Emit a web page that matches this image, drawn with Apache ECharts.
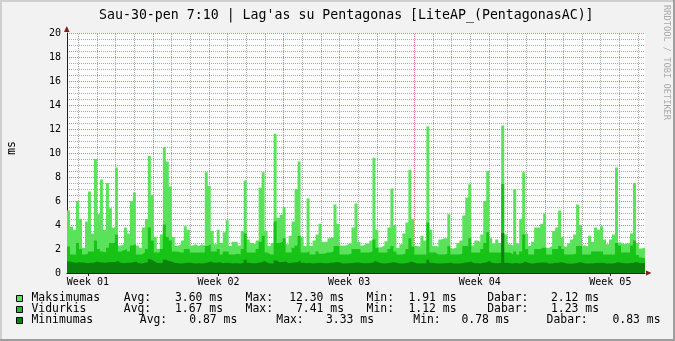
<!DOCTYPE html>
<html><head><meta charset="utf-8">
<script src="https://cdn.jsdelivr.net/npm/echarts@6/dist/echarts.min.js"></script>
<style>html,body{margin:0;padding:0;background:#f2f2f2}#c{width:675px;height:341px}</style>
</head><body><div id="c"></div>
<script>
// ---- data ----
const chartTitle = "Sau-30-pen 7:10 | Lag'as su Pentagonas [LiteAP_(PentagonasAC)]";
const seriesNames = ['Maksimumas', 'Vidurkis', 'Minimumas'];
const seriesColors = ['#5ae35a', '#18c318', '#0b820b'];
const weekLabels = ['Week 01', 'Week 02', 'Week 03', 'Week 04', 'Week 05'];
const weekCenters = [84, 252, 420, 588, 756];     // hours since the Sunday that starts Week 01
const yTicks = [0, 2, 4, 6, 8, 10, 12, 14, 16, 18, 20];
const startHour = 57.1, endHour = 800.6, stepHours = 3.852;

const maxValues = [5.2,3.85,3.6,6.0,4.5,2.1,4.3,6.8,3.3,9.5,
4.9,7.8,3.6,7.5,5.4,3.8,8.8,2.3,2.4,3.8,
3.3,6.0,6.7,2.3,2.1,3.8,4.5,9.75,6.5,3.0,
2.0,3.2,10.5,9.3,7.2,3.0,2.25,2.4,2.7,3.9,
3.6,2.3,2.4,2.25,2.4,2.3,8.4,7.25,3.5,2.4,
3.6,2.5,3.4,4.4,2.25,2.6,2.6,2.3,3.5,7.7,
2.8,2.5,2.4,2.7,7.1,8.4,3.5,2.25,2.5,11.6,
4.6,4.85,5.5,2.4,3.1,4.3,7.0,9.3,3.0,2.25,
6.2,2.25,2.7,3.2,4.1,2.6,2.6,2.9,3.0,5.7,
4.1,2.3,2.3,2.4,2.5,3.8,5.8,2.6,2.3,2.45,
2.45,2.7,9.6,3.6,2.15,2.3,2.65,3.8,7.05,4.0,
2.1,2.4,3.3,4.2,8.6,4.5,2.25,2.2,3.1,2.7,
12.2,3.6,2.25,2.2,2.8,2.9,2.9,4.9,2.05,2.1,
2.5,2.7,4.8,6.3,7.4,2.3,2.7,2.6,3.2,6.0,
8.5,2.9,2.45,2.8,2.5,12.3,3.2,2.4,2.3,7.0,
2.45,4.5,8.4,3.3,2.25,2.6,3.8,3.8,4.1,4.95,
2.1,2.25,3.5,3.8,5.2,3.0,2.2,2.45,2.8,3.2,
5.7,4.0,2.3,2.2,3.1,2.6,3.8,3.6,3.9,2.8,
2.4,2.8,3.2,8.8,2.55,2.4,2.45,2.5,3.3,7.5,
2.5,2.05,2.12];

const avgValues = [2.2,1.55,1.55,2.5,2.0,1.55,1.6,1.8,1.8,2.7,
2.0,1.8,1.7,2.1,2.5,2.5,3.2,1.8,1.9,2.0,
1.8,2.3,2.4,1.55,1.55,1.7,2.0,3.8,2.7,1.7,
1.7,2.0,4.05,3.0,2.7,1.8,1.8,1.7,1.7,2.0,
2.0,1.7,1.7,1.7,1.7,1.7,2.25,2.4,1.8,1.8,
2.0,1.55,1.8,1.8,1.55,1.55,1.6,1.55,2.0,3.3,
1.7,1.7,1.7,2.0,2.6,3.1,1.7,1.55,1.55,4.3,
2.5,2.6,2.9,1.7,1.7,2.1,2.3,3.1,1.7,1.7,
1.8,1.55,1.55,1.8,1.6,1.6,1.7,1.7,1.8,2.25,
2.25,1.55,1.55,1.55,1.6,2.0,2.0,2.0,1.7,1.7,
1.7,1.8,2.8,2.1,1.7,1.7,1.7,2.0,2.25,1.8,
1.55,1.55,1.6,2.0,2.9,2.2,1.55,1.55,1.55,1.55,
4.2,1.7,1.7,1.55,1.55,1.55,1.6,2.25,1.55,1.55,
1.55,1.6,2.25,2.25,2.9,1.7,1.7,1.7,2.0,2.5,
3.4,1.7,1.7,1.7,1.7,7.41,1.7,1.7,1.55,1.8,
1.55,1.8,3.2,2.0,1.55,1.55,2.0,2.0,2.1,2.1,
1.55,1.55,2.0,2.0,2.25,2.0,1.55,1.55,1.55,1.6,
2.25,2.25,1.55,1.55,1.55,1.8,1.8,1.8,1.8,1.55,
1.55,1.55,1.55,2.5,2.3,1.7,1.7,1.7,2.3,2.7,
1.5,1.3,1.23];

const minValues = [0.95,0.9,0.85,0.9,0.88,0.85,0.82,0.85,0.85,0.95,
0.9,0.88,0.85,0.9,0.92,0.9,1.0,0.85,0.82,0.85,
0.85,0.9,0.95,0.82,0.8,0.85,0.9,1.15,1.0,0.85,
0.82,0.85,1.1,1.0,0.95,0.85,0.82,0.8,0.82,0.85,
0.88,0.82,0.8,0.82,0.8,0.82,0.9,0.95,0.88,0.85,
0.9,0.82,0.85,0.85,0.8,0.82,0.82,0.8,0.85,1.1,
0.85,0.82,0.82,0.85,0.9,1.0,0.85,0.8,0.82,1.05,
0.9,0.92,0.95,0.82,0.85,0.88,0.9,1.05,0.85,0.82,
0.85,0.8,0.82,0.85,0.85,0.82,0.82,0.85,0.85,0.92,
0.9,0.8,0.8,0.82,0.82,0.85,0.88,0.85,0.82,0.82,
0.82,0.85,1.0,0.9,0.82,0.8,0.82,0.85,0.9,0.85,
0.8,0.8,0.82,0.85,0.95,0.88,0.8,0.8,0.82,0.8,
1.1,0.85,0.82,0.8,0.8,0.82,0.82,0.88,0.8,0.8,
0.8,0.82,0.88,0.9,0.95,0.82,0.82,0.8,0.85,0.88,
1.0,0.85,0.82,0.82,0.85,3.33,0.85,0.82,0.8,0.85,
0.8,0.82,0.95,0.85,0.8,0.8,0.85,0.85,0.88,0.88,
0.8,0.8,0.85,0.85,0.9,0.85,0.8,0.78,0.8,0.82,
0.9,0.88,0.8,0.8,0.8,0.82,0.85,0.85,0.85,0.8,
0.8,0.8,0.82,0.9,0.85,0.82,0.82,0.82,0.85,0.92,
0.85,0.82,0.83];

const statLabels = ['Avg:', 'Max:', 'Min:', 'Dabar:'];
const statValues = [
  [3.60, 12.30, 1.91, 2.12],
  [1.67, 7.41, 1.12, 1.23],
  [0.87, 3.33, 0.78, 0.83]
];
const legendRowType = ['A', 'A', 'B'];

// ---- helpers ----
function toPoints(vals) {
  const pts = vals.map((v, i) => [startHour + i * stepHours, v]);
  pts.push([startHour + vals.length * stepHours, vals[vals.length - 1]]);
  return pts;
}
const MONO = 'DejaVu Sans Mono';
const GRID_MINOR = 'rgba(143,143,143,0.75)';
const GRID_MAJOR = 'rgba(222,79,79,0.75)';
const AXIS_COL = '#1f1f1f';
const ARROW_COL = '#801f1f';

// vertical grid positions (hours): day boundaries; Sundays (multiples of 168 h) are week boundaries
const gridHours = [];
for (let h = 72; h < endHour; h += 24) gridHours.push(h);

// legend rich layouts
function fr(w, align) { return { width: w, align: align || 'left', fontFamily: MONO, fontSize: 11.4, color: '#000', lineHeight: 13.7 }; }
const rich = {
  As: fr(4), An: fr(92.3), Al1: fr(27.5), Av1: fr(71.7, 'right'), Al2: fr(50, 'right'), Av2: fr(71, 'right'),
  Al3: fr(50, 'right'), Av3: fr(62.5, 'right'), Al4: fr(71.9, 'right'), Av4: fr(70.6, 'right'),
  Bs: fr(4), Bn: fr(108.3), Bl1: fr(27.5), Bv1: fr(70, 'right'), Bl2: fr(66.4, 'right'), Bv2: fr(70.3, 'right'),
  Bl3: fr(66.7, 'right'), Bv3: fr(68.8, 'right'), Bl4: fr(78.2, 'right'), Bv4: fr(72.8, 'right')
};

const seriesList = [maxValues, avgValues, minValues].map((vals, k) => ({
  type: 'line', name: seriesNames[k], data: toPoints(vals), step: 'end', z: 2 + k,
  symbol: 'none', showSymbol: false, color: seriesColors[k],
  lineStyle: { width: 0, color: seriesColors[k] },
  areaStyle: { color: seriesColors[k], opacity: 1 },
  silent: true
}));

const baseGraphic = [
  { type: 'rect', shape: { x: 0, y: 0, width: 675, height: 2 }, style: { fill: '#cfcfcf' }, silent: true },
  { type: 'rect', shape: { x: 0, y: 0, width: 2, height: 341 }, style: { fill: '#cfcfcf' }, silent: true },
  { type: 'rect', shape: { x: 673, y: 0, width: 2, height: 341 }, style: { fill: '#9e9e9e' }, silent: true },
  { type: 'rect', shape: { x: 0, y: 339, width: 675, height: 2 }, style: { fill: '#9e9e9e' }, silent: true },
  { type: 'polygon', shape: { points: [[64, 32], [69.5, 32], [66.75, 26]] }, style: { fill: ARROW_COL }, silent: true },
  { type: 'polygon', shape: { points: [[646, 270.5], [646, 275.5], [651.5, 273]] }, style: { fill: ARROW_COL }, silent: true },
  { type: 'text', x: 666.5, y: 5, rotation: -Math.PI / 2, silent: true,
    style: { text: 'RRDTOOL / TOBI OETIKER', fontFamily: MONO, fontSize: 8.7, fill: '#aaaaaa', align: 'left', verticalAlign: 'middle' } }
];

const chart = echarts.init(document.getElementById('c'), null, { renderer: 'canvas' });
chart.setOption({
  animation: false,
  backgroundColor: '#f2f2f2',
  title: {
    text: chartTitle, left: 94, top: 4,
    textStyle: { fontFamily: MONO, fontSize: 13.25, fontWeight: 'normal', color: '#000' }
  },
  grid: { left: 67, right: 30, top: 33, bottom: 68, show: true, backgroundColor: '#ffffff', borderWidth: 0,
    containLabel: false, outerBoundsMode: 'none' },
  xAxis: {
    type: 'value', min: startHour, max: endHour,
    splitLine: { show: false },
    axisLine: { show: true, lineStyle: { color: AXIS_COL, width: 1 } },
    axisTick: { show: true, customValues: weekCenters, length: 3, lineStyle: { color: AXIS_COL } },
    axisLabel: {
      customValues: weekCenters, margin: 4,
      fontFamily: MONO, fontSize: 10, color: '#000',
      formatter: (v) => weekLabels[weekCenters.indexOf(v)] || ''
    }
  },
  yAxis: {
    type: 'value', min: 0, max: 20, interval: 2,
    name: 'ms', nameLocation: 'middle', nameGap: 49, nameRotate: 90,
    nameTextStyle: { fontFamily: MONO, fontSize: 11.4, color: '#000', padding: [0, 0, 0, 10] },
    axisLine: { show: true, lineStyle: { color: AXIS_COL, width: 1 } },
    axisTick: { show: false },
    axisLabel: { margin: 6, fontFamily: MONO, fontSize: 10, color: '#000',
      formatter: (v) => yTicks.indexOf(v) >= 0 ? String(v) : '' },
    splitLine: { show: true, lineStyle: { color: GRID_MAJOR, type: [1, 1], width: 1 } },
    minorTick: { show: false, splitNumber: 4 },
    minorSplitLine: { show: true, lineStyle: { color: GRID_MINOR, type: [1, 1], width: 1 } }
  },
  legend: {
    data: seriesNames, orient: 'vertical', left: 16, top: 293, padding: 0,
    itemWidth: 6, itemHeight: 6, itemGap: 0, icon: 'rect', selectedMode: false,
    itemStyle: { borderColor: '#000', borderWidth: 1 },
    textStyle: { fontFamily: MONO, fontSize: 11.4, color: '#000', rich: rich },
    formatter: function (name) {
      const k = seriesNames.indexOf(name);
      const t = legendRowType[k];
      const v = statValues[k];
      let s = '{' + t + 's| }{' + t + 'n|' + name + '}';
      for (let j = 0; j < 4; j++) {
        s += '{' + t + 'l' + (j + 1) + '|' + statLabels[j] + '}{' + t + 'v' + (j + 1) + '|' + v[j].toFixed(2) + ' ms}';
      }
      return s;
    }
  },
  graphic: baseGraphic,
  series: seriesList
});

// vertical dotted grid (day / week boundaries), placed through the x axis scale and snapped to pixel centres
const yTop = chart.convertToPixel({ yAxisIndex: 0 }, 20);
const yBottom = chart.convertToPixel({ yAxisIndex: 0 }, 0);
const gridLines = gridHours.map(h => {
  const x = Math.floor(chart.convertToPixel({ xAxisIndex: 0 }, h)) + 0.5;
  return {
    type: 'line', z: 1, silent: true,
    shape: { x1: x, y1: yBottom, x2: x, y2: yTop },
    style: { stroke: (h % 168 === 0) ? GRID_MAJOR : GRID_MINOR, lineWidth: 1, lineDash: [1, 1] }
  };
});
chart.setOption({ graphic: baseGraphic.concat(gridLines) });
</script>
</body></html>
